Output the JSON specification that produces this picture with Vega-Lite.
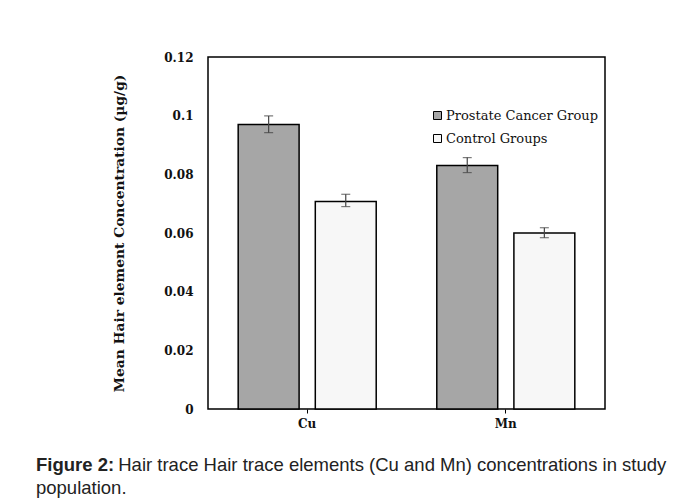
{
  "$schema": "https://vega.github.io/schema/vega-lite/v6.json",
  "width": 397,
  "height": 352,
  "autosize": {"type": "none"},
  "padding": {"left": 208, "top": 57, "right": 78, "bottom": 91},
  "background": "white",
  "config": {
    "view": {"stroke": "#000", "strokeWidth": 1.5},
    "axis": {"grid": false}
  },
  "title": {
    "text": "Figure 2:",
    "subtitle": ["\u200b\u00a0\u00a0\u00a0\u00a0\u00a0\u00a0\u00a0\u00a0\u00a0\u00a0\u00a0\u00a0\u00a0\u00a0\u00a0\u00a0Hair trace Hair trace elements (Cu and Mn) concentrations in study", "population."],
    "orient": "bottom",
    "anchor": "start",
    "frame": "group",
    "dx": -172,
    "offset": 27,
    "font": "Liberation Sans",
    "fontSize": 18.5,
    "fontWeight": "bold",
    "color": "#222",
    "subtitleFont": "Liberation Sans",
    "subtitleFontSize": 18.5,
    "subtitleFontWeight": "normal",
    "subtitleColor": "#222",
    "subtitleLineHeight": 23,
    "subtitlePadding": -18.5
  },
  "data": {
    "values": [
      {"element": "Cu", "group": "Prostate Cancer Group", "mean": 0.097, "lo": 0.0942, "hi": 0.0999},
      {"element": "Cu", "group": "Control Groups", "mean": 0.0707, "lo": 0.069, "hi": 0.0732},
      {"element": "Mn", "group": "Prostate Cancer Group", "mean": 0.083, "lo": 0.0806, "hi": 0.0857},
      {"element": "Mn", "group": "Control Groups", "mean": 0.060, "lo": 0.0584, "hi": 0.0618}
    ]
  },
  "encoding": {
    "x": {
      "field": "element",
      "type": "nominal",
      "scale": {"paddingInner": 0.305, "paddingOuter": 0.152},
      "axis": {
        "title": null,
        "labelAngle": 0,
        "domain": false,
        "ticks": true,
        "tickSize": 4,
        "tickColor": "#000",
        "tickWidth": 1,
        "labelPadding": 5,
        "labelFont": "DejaVu Serif",
        "labelFontWeight": "bold",
        "labelFontSize": 12,
        "labelColor": "#111"
      }
    },
    "xOffset": {
      "field": "group",
      "type": "nominal",
      "scale": {"domain": ["Prostate Cancer Group", "Control Groups"], "paddingInner": 0.21, "paddingOuter": 0}
    }
  },
  "layer": [
    {
      "mark": {"type": "bar", "stroke": "#000", "strokeWidth": 1.5},
      "encoding": {
        "y": {
          "field": "mean",
          "type": "quantitative",
          "title": "Mean Hair element Concentration (µg/g)",
          "scale": {"domain": [0, 0.12], "nice": false},
          "axis": {
            "values": [0, 0.02, 0.04, 0.06, 0.08, 0.1, 0.12],
            "format": "~g",
            "domain": false,
            "ticks": false,
            "labelPadding": 15,
            "labelFont": "DejaVu Serif",
            "labelFontWeight": "bold",
            "labelFontSize": 12,
            "labelColor": "#111",
            "titleFont": "DejaVu Serif",
            "titleFontWeight": "bold",
            "titleFontSize": 13.8,
            "titleColor": "#111",
            "titlePadding": 37
          }
        },
        "fill": {
          "field": "group",
          "type": "nominal",
          "scale": {"domain": ["Prostate Cancer Group", "Control Groups"], "range": ["#a6a6a6", "#f7f7f7"]},
          "legend": {
            "title": null,
            "orient": "none",
            "legendX": 223,
            "legendY": 52,
            "symbolType": "square",
            "symbolSize": 64,
            "symbolStrokeColor": "#000",
            "symbolStrokeWidth": 1,
            "labelFont": "DejaVu Serif",
            "labelFontSize": 13,
            "labelColor": "#111",
            "labelOffset": 2,
            "rowPadding": 9
          }
        }
      }
    },
    {
      "mark": {"type": "rule", "color": "#444", "strokeWidth": 1.2},
      "encoding": {
        "y": {"field": "lo", "type": "quantitative", "title": "Mean Hair element Concentration (µg/g)"},
        "y2": {"field": "hi"}
      }
    },
    {
      "mark": {"type": "tick", "color": "#444", "size": 9, "thickness": 1.2},
      "encoding": {
        "y": {"field": "lo", "type": "quantitative", "title": "Mean Hair element Concentration (µg/g)"}
      }
    },
    {
      "mark": {"type": "tick", "color": "#444", "size": 9, "thickness": 1.2},
      "encoding": {
        "y": {"field": "hi", "type": "quantitative", "title": "Mean Hair element Concentration (µg/g)"}
      }
    }
  ]
}
